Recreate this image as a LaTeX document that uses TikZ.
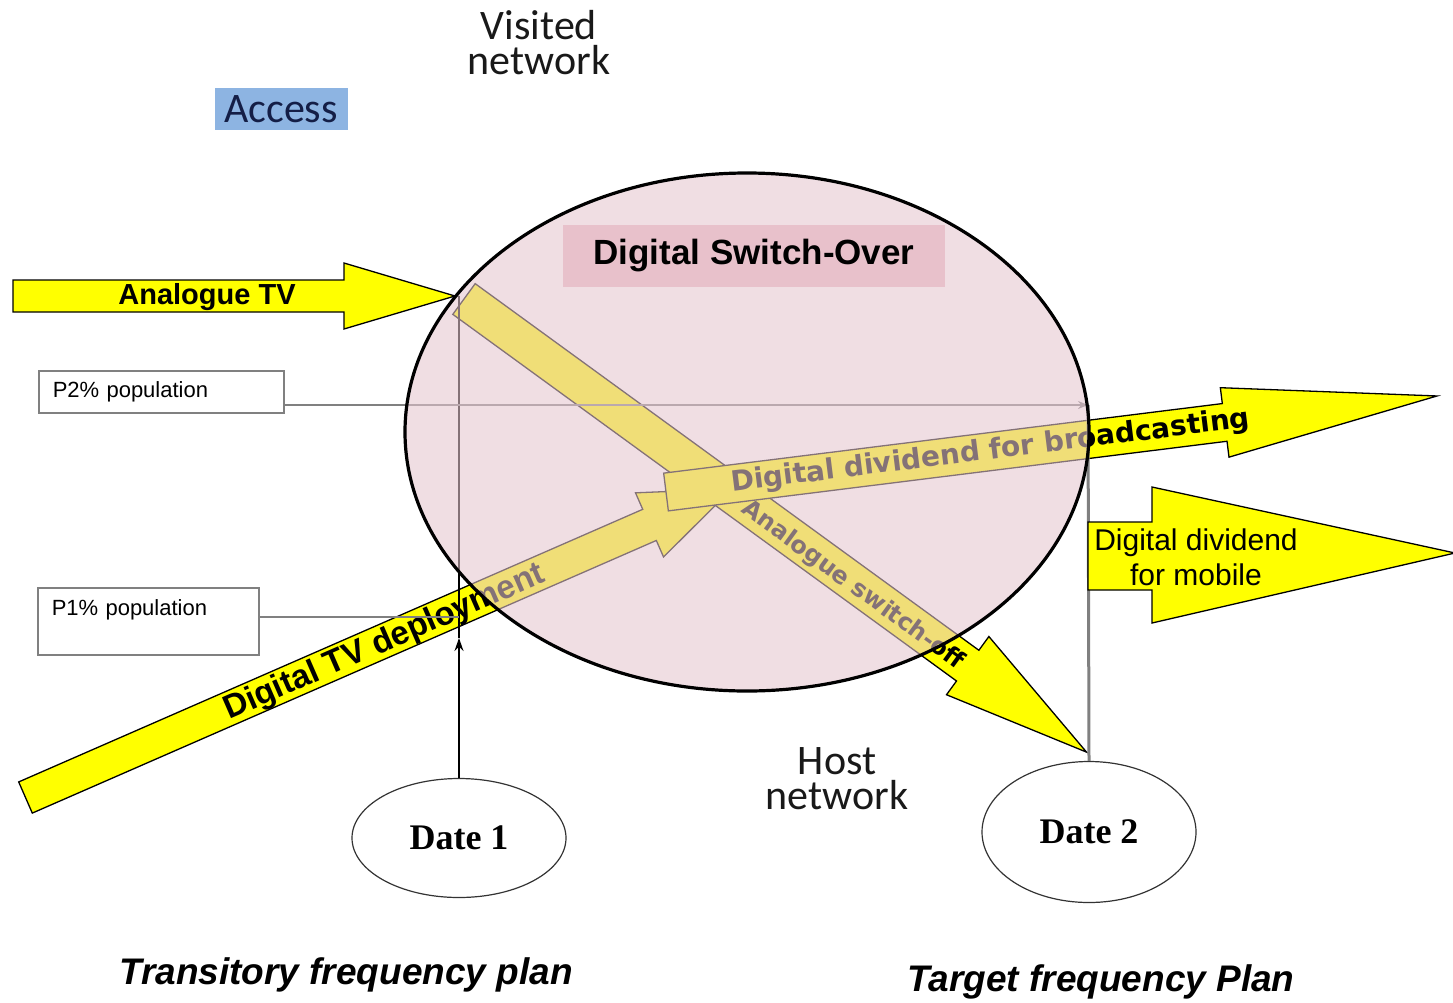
\documentclass[tikz,border=0pt]{standalone}
\usepackage{fontspec}
\usetikzlibrary{arrows.meta,shapes.geometric,calc}
\newfontfamily\arialf{Liberation Sans}
\newfontfamily\calf{Carlito}
\newfontfamily\serf{Liberation Serif}
\newfontfamily\verf{DejaVu Sans}
\definecolor{arrowyellow}{RGB}{255,255,0}
\definecolor{dsopink}{RGB}{229,198,208}
\definecolor{titlepink}{RGB}{232,193,203}
\definecolor{accessblue}{RGB}{141,180,226}
\definecolor{accessnavy}{RGB}{20,30,70}
\definecolor{guidegray}{RGB}{128,128,128}
\begin{document}
\begin{tikzpicture}[x=1pt,y=-1pt,
  bigarrow/.style={fill=arrowyellow, draw=black, line width=1.3pt, line join=miter},
  popbox/.style={draw=guidegray, line width=1.5pt, fill=white, anchor=north west,
     font=\arialf\fontsize{22}{26}\selectfont, align=left, inner xsep=14pt},
  guideline/.style={draw=guidegray, line width=2pt},
  dateellipse/.style={ellipse, draw=black!80, line width=1.2pt, fill=white,
     font=\serf\bfseries\fontsize{36}{40}\selectfont},
  netlabel/.style={font=\calf\fontsize{42}{35}\selectfont, align=center, text=black!90},
  planlabel/.style={font=\arialf\bfseries\itshape\fontsize{37}{40}\selectfont}
]
\fill[white] (0,0) rectangle (1453,1002);
\useasboundingbox (0,0) rectangle (1453,1002);

% Digital TV deployment
\begin{scope}[shift={(25.5,797.5)}, rotate=23.6]
  \draw[bigarrow] (0,-17) -- (681,-17) -- (681,-35) -- (771,0) -- (681,35) -- (681,17) -- (0,17) -- cycle;
  \node[transform shape, inner sep=0pt, font=\arialf\bfseries\fontsize{33}{36}\selectfont] (dtvlabel) at (391,2) {Digital TV deployment};
\end{scope}

% Analogue switch-off
\begin{scope}[shift={(464,299)}, rotate=-36.05]
  \draw[bigarrow] (0,-19) -- (623,-19) -- (623,-36) -- (770,0) -- (623,36) -- (623,19) -- (0,19) -- cycle;
  \node[transform shape, inner sep=0pt, font=\verf\bfseries\fontsize{24}{28}\selectfont] (aslabel) at (483,3) {Analogue switch-off};
\end{scope}

% Digital dividend for broadcasting
\begin{scope}[shift={(666,492)}, rotate=7.1]
  \draw[bigarrow] (0,-19) -- (563,-19) -- (563,-35) -- (777,0) -- (563,35) -- (563,19) -- (0,19) -- cycle;
  \node[transform shape, inner sep=0pt, font=\verf\bfseries\fontsize{28}{32}\selectfont] (ddblabel) at (327,0) {Digital dividend for broadcasting};
\end{scope}

% Analogue TV
\draw[bigarrow] (13,280) -- (344,280) -- (344,263) -- (455,296) -- (344,329) -- (344,312) -- (13,312) -- cycle;
\node[inner sep=0pt, font=\arialf\bfseries\fontsize{29}{32}\selectfont] (atvlabel) at (207,297) {Analogue TV};

% boxes and dates
\node[popbox, text width=217pt, minimum height=42pt] (p2) at (38,370) {P2\% population};
\node[popbox, text width=193pt, inner ysep=8pt, text height=20pt, text depth=31pt] (p1) at (37,587) {P1\% population};
\node[dateellipse, minimum width=214pt, minimum height=119pt] (date1) at (459,838) {Date 1};
\node[dateellipse, minimum width=214pt, minimum height=141pt] (date2) at (1089,832) {Date 2};

\coordinate (atvtip) at (456,296);
\coordinate (d1mark) at (459,638);
\coordinate (p1end) at (459,617);
\coordinate (p2end) at (1088,405);

\draw[line width=1.5pt, -{Stealth[length=13pt,width=9pt]}] (date1.north) -- (d1mark);
\draw[line width=1.5pt] (d1mark) -- (d1mark |- atvtip);
\draw[guideline] (p1.east |- p1end) -- (p1end);
\draw[guideline, -{Stealth[length=10pt,width=8pt]}] (p2.east |- p2end) -- (p2end);
\draw[guideline, line width=3pt] (date2.north) -- (p2end);

% Digital switch-over ellipse
\node[ellipse, minimum width=684pt, minimum height=518pt, draw=black, line width=3.2pt,
      fill=dsopink, fill opacity=0.576] (dso) at (747,432) {};
\node[fill=titlepink, minimum width=382pt, minimum height=62pt,
      font=\arialf\bfseries\fontsize{35}{40}\selectfont] (dsotitle) at (754,256) {Digital Switch-Over};

% Digital dividend for mobile
\draw[bigarrow] (1088,522) -- (1152,522) -- (1152,487) -- (1455,553) -- (1152,623) -- (1152,590) -- (1088,590) -- cycle;
\node[inner sep=0pt, align=center, font=\arialf\fontsize{30}{35}\selectfont] (ddmlabel) at (1196,557) {Digital dividend\\for mobile};

% labels
\node[netlabel] (visited) at (539,43) {Visited\\network};
\node[netlabel] (host) at (837,779) {Host\\network};
\node[fill=accessblue, minimum width=133pt, minimum height=42pt, inner sep=0pt,
      font=\calf\fontsize{42}{44}\selectfont, text=accessnavy] (access) at (281,109) {Access};
\node[planlabel] (transitory) at (346,975) {Transitory frequency plan};
\node[planlabel] (target) at (1101,982) {Target frequency Plan};
\end{tikzpicture}
\end{document}
